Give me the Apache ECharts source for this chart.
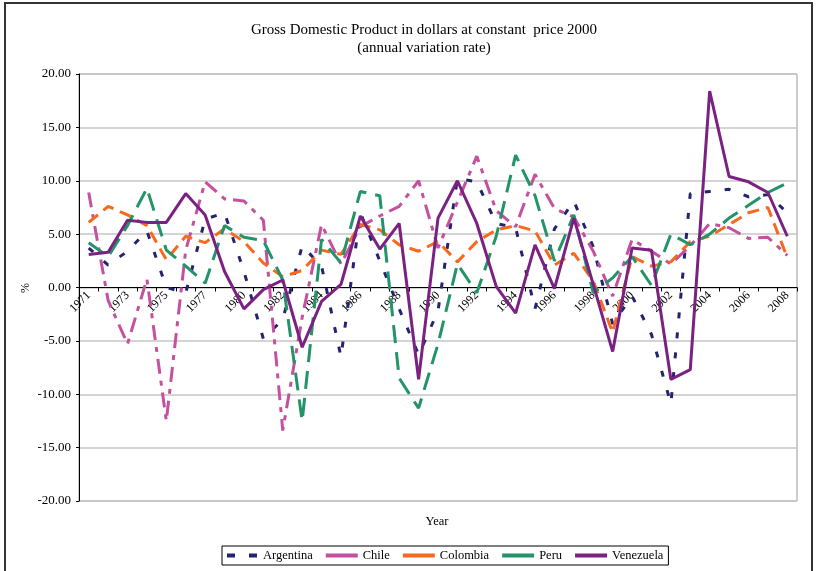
<!DOCTYPE html>
<html>
<head>
<meta charset="utf-8">
<script src="https://cdn.jsdelivr.net/npm/echarts@6.0.0/dist/echarts.min.js"></script>
<style>
  html, body { margin: 0; padding: 0; background: #fff; }
  #chart { width: 820px; height: 571px; }
</style>
</head>
<body>
<div id="chart"></div>
<script>
// years as they appear on the category axis (1978 is absent from the source table)
const years = ['1971', '1972', '1973', '1974', '1975', '1976', '1977', '1979', '1980', '1981',
    '1982', '1983', '1984', '1985', '1986', '1987', '1988', '1989', '1990', '1991',
    '1992', '1993', '1994', '1995', '1996', '1997', '1998', '1999', '2000', '2001',
    '2002', '2003', '2004', '2005', '2006', '2007', '2008'];

const argentina = [3.7, 2.1, 3.4, 5.3, 0.0, -0.5, 6.4, 7.0, 1.5, -4.8,
    -3.0, 3.9, 2.0, -6.5, 7.0, 2.5, -2.0, -6.3, -2.2, 10.2,
    9.9, 6.0, 5.6, -2.0, 5.5, 8.1, 3.8, -3.4, -0.8, -4.4,
    -10.9, 8.8, 9.0, 9.2, 8.5, 8.7, 7.0];
const chile = [8.9, -1.2, -5.3, 0.8, -12.5, 3.5, 9.9, 8.3, 8.1, 6.3,
    -13.4, -2.8, 5.9, 2.2, 5.7, 6.7, 7.6, 10.0, 3.7, 8.0,
    12.3, 7.2, 5.7, 10.6, 7.4, 6.6, 3.4, -0.8, 4.5, 3.4,
    2.2, 3.9, 6.0, 5.6, 4.6, 4.7, 3.0];
const colombia = [6.1, 7.6, 6.8, 5.8, 2.6, 4.8, 4.2, 5.5, 4.3, 2.3,
    1.0, 1.6, 3.5, 3.1, 5.9, 5.4, 4.0, 3.4, 4.3, 2.4,
    4.3, 5.4, 5.8, 5.3, 2.1, 3.2, 0.6, -4.2, 2.9, 2.0,
    2.4, 4.3, 4.8, 5.9, 7.0, 7.5, 2.8];
const peru = [4.2, 2.9, 5.8, 9.3, 3.5, 2.0, 0.4, 5.8, 4.7, 4.4,
    0.7, -12.5, 4.5, 2.3, 9.0, 8.6, -8.5, -11.3, -5.3, 2.2,
    -0.5, 4.8, 12.4, 8.6, 2.5, 6.8, -0.5, 0.9, 2.9, 0.2,
    5.0, 4.0, 5.0, 6.5, 7.7, 8.9, 9.8];
const venezuela = [3.1, 3.3, 6.3, 6.1, 6.1, 8.8, 6.8, 1.5, -2.0, -0.2,
    0.7, -5.6, -1.3, 0.3, 6.7, 3.6, 6.0, -8.6, 6.5, 10.0,
    6.0, 0.1, -2.4, 4.0, -0.1, 6.5, 0.3, -6.0, 3.7, 3.5,
    -8.6, -7.7, 18.4, 10.4, 9.9, 8.9, 4.8];

const yTicks = { min: -20, max: 20, step: 5 };

const FONT = 'Liberation Serif';

const seriesDefs = [
    { name: 'Argentina', data: argentina, color: '#23236f', dash: [6, 14],
      icon: 'path://M0,0h8v4h-8z M22,0h8v4h-8z' },
    { name: 'Chile', data: chile, color: '#c4509f', dash: [15, 7, 5, 7], icon: 'rect' },
    { name: 'Colombia', data: colombia, color: '#f7691f', dash: [12, 7], icon: 'rect' },
    { name: 'Peru', data: peru, color: '#229468', dash: [18, 9], icon: 'rect' },
    { name: 'Venezuela', data: venezuela, color: '#7a2182', dash: 'solid', icon: 'rect' },
];

// grid geometry, the x axis is moved up so it sits on the 0 line
const grid = { left: 79, right: 23, top: 74, bottom: 70 };
const plotH = 571 - grid.top - grid.bottom;
const zeroShift = plotH * (0 - yTicks.min) / (yTicks.max - yTicks.min);

const myChart = echarts.init(document.getElementById('chart'), null, { renderer: 'canvas' });

const option = {
    animation: false,
    backgroundColor: '#fff',
    textStyle: { fontFamily: FONT, color: '#000' },
    title: {
        text: 'Gross Domestic Product in dollars at constant  price 2000\n(annual variation rate)',
        left: 419,
        top: 16,
        textAlign: 'center',
        textStyle: { fontFamily: FONT, fontSize: 15, fontWeight: 'normal', color: '#000', lineHeight: 18 },
    },
    grid: Object.assign({ show: true, borderColor: '#999', borderWidth: 1 }, grid),
    legend: {
        left: 222, top: 546,
        orient: 'horizontal',
        borderColor: '#000', borderWidth: 1,
        padding: [3, 5, 3, 5],
        itemGap: 13,
        itemWidth: 32, itemHeight: 4,
        textStyle: { fontFamily: FONT, fontSize: 12.5, color: '#000' },
        data: seriesDefs.map((d) => ({
            name: d.name,
            icon: d.icon,
            itemStyle: { color: d.color },
        })),
    },
    xAxis: {
        type: 'category',
        data: years,
        boundaryGap: true,
        position: 'bottom',
        offset: -zeroShift,
        axisLine: { onZero: false, lineStyle: { color: '#000', width: 1 } },
        axisTick: { show: true, interval: 0, length: 4, lineStyle: { color: '#000' } },
        axisLabel: { interval: 1, rotate: 45, fontFamily: FONT, fontSize: 12, color: '#000', margin: 6 },
        splitLine: { show: false },
    },
    yAxis: {
        type: 'value',
        min: yTicks.min, max: yTicks.max, interval: yTicks.step,
        axisLine: { show: true, lineStyle: { color: '#000', width: 1 } },
        axisTick: { show: true, length: 3, lineStyle: { color: '#000' } },
        axisLabel: { fontFamily: FONT, fontSize: 13, color: '#000', formatter: (v) => v.toFixed(2) },
        splitLine: { show: true, lineStyle: { color: '#c6c6c6', width: 1.5 } },
    },
    graphic: [
        {
            type: 'rect',
            shape: { x: 5, y: 3, width: 807, height: 600 },
            style: { fill: 'none', stroke: '#333', lineWidth: 2 },
            silent: true,
        },
        {
            type: 'text',
            x: 437, y: 522,
            style: { text: 'Year', fontFamily: FONT, fontSize: 12.5, fill: '#000', align: 'center', verticalAlign: 'middle' },
        },
        {
            type: 'text',
            x: 26, y: 288,
            rotation: Math.PI / 2,
            style: { text: '%', fontFamily: FONT, fontSize: 12, fill: '#000', align: 'center', verticalAlign: 'middle' },
        },
    ],
    series: seriesDefs.map((d) => ({
        name: d.name,
        type: 'line',
        data: d.data,
        symbol: 'none',
        color: d.color,
        lineStyle: { color: d.color, width: 3, type: d.dash },
    })),
};

myChart.setOption(option);
</script>
</body>
</html>
